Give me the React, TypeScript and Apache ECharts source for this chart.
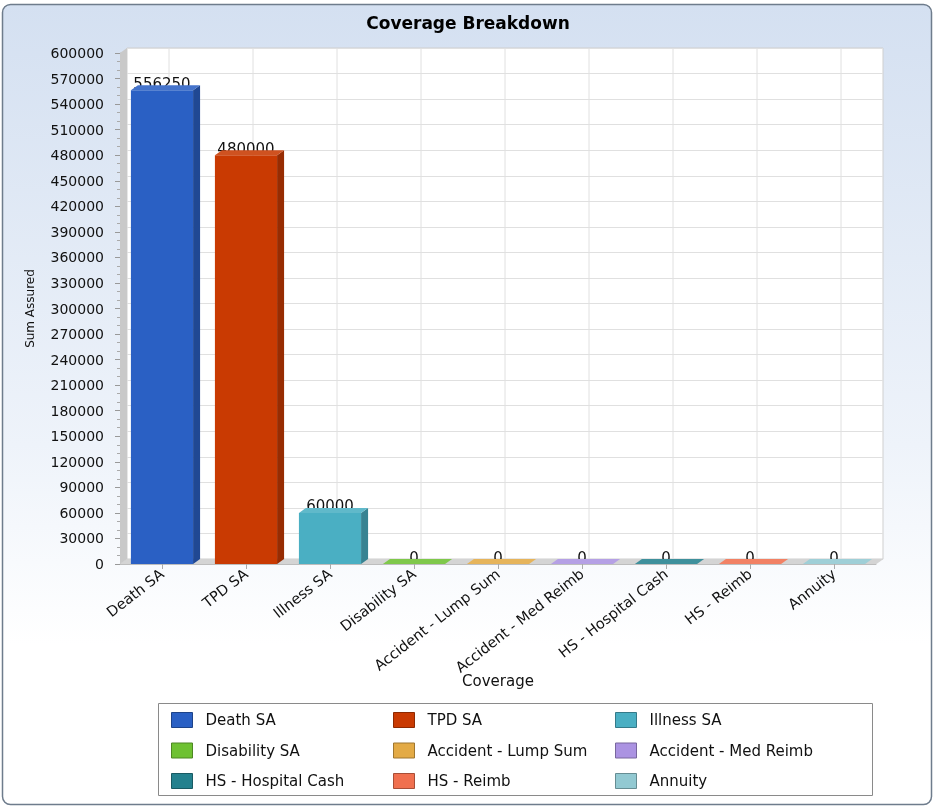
import React, { useEffect, useRef } from "react";
import * as echarts from "echarts";

const categories = [
  "Death SA",
  "TPD SA",
  "Illness SA",
  "Disability SA",
  "Accident - Lump Sum",
  "Accident - Med Reimb",
  "HS - Hospital Cash",
  "HS - Reimb",
  "Annuity",
];
const sumAssured = [556250, 480000, 60000, 0, 0, 0, 0, 0, 0];
const colors = [
  "#2A60C4",
  "#C93A02",
  "#4AAFC3",
  "#6EC132",
  "#E3AA45",
  "#AB93E2",
  "#24818E",
  "#F0704F",
  "#92C9D2",
];
const yMin = 0;
const yMax = 600000;
const yInterval = 30000;

const FONT = "'DejaVu Sans', 'Liberation Sans', sans-serif";
const DX = 7;
const DY = 5;

function shade(hex: string, f: number): string {
  const n = parseInt(hex.slice(1), 16);
  let r = (n >> 16) & 255;
  let g = (n >> 8) & 255;
  let b = n & 255;
  if (f < 0) {
    r = r * (1 + f);
    g = g * (1 + f);
    b = b * (1 + f);
  } else {
    r = r + (255 - r) * f;
    g = g + (255 - g) * f;
    b = b + (255 - b) * f;
  }
  return `rgb(${Math.round(r)},${Math.round(g)},${Math.round(b)})`;
}

export default function App() {
  const ref = useRef<HTMLDivElement>(null);

  useEffect(() => {
    if (!ref.current) return;
    const chart = echarts.init(ref.current, null, { renderer: "svg" });

    const wallSeries: any = {
      type: "custom",
      name: "__wall",
      silent: true,
      z: 1,
      xAxisIndex: 0,
      yAxisIndex: 0,
      data: categories.map((_, i) => [i, yMax]),
      renderItem: (params: any, api: any) => {
        const ci = api.value(0);
        const top = api.coord([ci, yMax]);
        const base = api.coord([ci, 0]);
        const w = api.size([1, 0])[0];
        const bl = top[0] - w / 2;
        const br = top[0] + w / 2;
        const children: any[] = [
          {
            type: "line",
            shape: { x1: top[0] + DX, y1: top[1] - DY, x2: base[0] + DX, y2: base[1] - DY },
            style: { stroke: "#e0e0e0", lineWidth: 1 },
          },
          {
            type: "polygon",
            shape: {
              points: [
                [bl - 0.5, base[1]],
                [bl + DX - 0.5, base[1] - DY],
                [br + DX + 0.5, base[1] - DY],
                [br + 0.5, base[1]],
              ],
            },
            style: { fill: "#d4d4d4" },
          },
        ];
        if (params.dataIndex === 0) {
          children.push({
            type: "polygon",
            shape: {
              points: [
                [bl, top[1]],
                [bl + DX, top[1] - DY],
                [bl + DX, base[1] - DY],
                [bl, base[1]],
              ],
            },
            style: { fill: "#c9c9c9" },
          });
        }
        return { type: "group", children };
      },
    };

    const barSeries: any[] = categories.map((name, i) => ({
      type: "custom",
      name,
      z: 3,
      xAxisIndex: 0,
      yAxisIndex: 0,
      itemStyle: { color: colors[i] },
      data: [[i, sumAssured[i]]],
      renderItem: (params: any, api: any) => {
        const ci = api.value(0);
        const v = api.value(1);
        const top = api.coord([ci, v]);
        const base = api.coord([ci, 0]);
        const bw = api.size([1, 0])[0] * 0.74;
        const l = top[0] - bw / 2;
        const r = top[0] + bw / 2;
        const t = top[1];
        const b = base[1];
        const c = colors[i];
        return {
          type: "group",
          children: [
            {
              type: "text",
              style: {
                text: String(v),
                x: top[0],
                y: t + 1,
                align: "center",
                verticalAlign: "bottom",
                textAlign: "center",
                textVerticalAlign: "bottom",
                fill: "#111",
                font: `15px ${FONT}`,
              },
            },
            {
              type: "rect",
              shape: { x: l, y: t, width: bw, height: b - t },
              style: { fill: c },
            },
            {
              type: "polygon",
              shape: { points: [[r, t], [r + DX, t - DY], [r + DX, b - DY], [r, b]] },
              style: { fill: shade(c, -0.25) },
            },
            {
              type: "polygon",
              shape: { points: [[l, t], [l + DX, t - DY], [r + DX, t - DY], [r, t]] },
              style: { fill: shade(c, 0.12) },
            },
          ],
        };
      },
    }));

    const legends = [0, 1, 2].map((col) => ({
      orient: "vertical",
      left: 171 + col * 222,
      top: 712,
      padding: 0,
      itemGap: 14.5,
      itemWidth: 21,
      itemHeight: 15,
      icon: "rect",
      selectedMode: false,
      data: categories
        .map((name, i) => ({ name, i }))
        .filter((d) => d.i % 3 === col)
        .map((d) => ({
          name: d.name,
          itemStyle: { color: colors[d.i], borderColor: shade(colors[d.i], -0.3), borderWidth: 1 },
        })),
      textStyle: {
        fontFamily: FONT,
        fontSize: 15,
        color: "#111",
        lineHeight: 15,
        padding: [0, 0, 0, 8],
      },
    }));

    chart.setOption({
      animation: false,
      title: {
        text: "Coverage Breakdown",
        left: "center",
        top: 9,
        textStyle: { fontFamily: FONT, fontWeight: "bold", fontSize: 17, color: "#000" },
      },
      graphic: [
        {
          type: "rect",
          z: -10,
          shape: { x: 2.5, y: 4.5, width: 929, height: 800, r: 8 },
          style: {
            fill: new echarts.graphic.LinearGradient(0, 0, 0, 1, [
              { offset: 0, color: "#D4E0F1" },
              { offset: 0.55, color: "#EEF3FA" },
              { offset: 0.8, color: "#FFFFFF" },
              { offset: 1, color: "#FFFFFF" },
            ]),
            stroke: "#6E7C8C",
            lineWidth: 1.5,
          },
        },
        {
          type: "rect",
          z: -5,
          shape: { x: 158.5, y: 703.5, width: 714, height: 92 },
          style: { fill: "#FFFFFF", stroke: "#8A8A8A", lineWidth: 1 },
        },
      ],
      legend: legends,
      grid: [
        { left: 120, right: 60, top: 53, bottom: 245, containLabel: false },
        {
          left: 127,
          right: 53,
          top: 48,
          bottom: 250,
          show: true,
          backgroundColor: "#FFFFFF",
          borderColor: "#cfcfcf",
          borderWidth: 1,
          z: -1,
        },
      ],
      xAxis: [
        {
          type: "category",
          gridIndex: 0,
          data: categories,
          name: "Coverage",
          nameLocation: "middle",
          nameGap: 109,
          nameMoveOverlap: false,
          nameTextStyle: { fontFamily: FONT, fontSize: 15, color: "#111" },
          axisLine: { show: true, lineStyle: { color: "#bdbdbd" } },
          axisTick: { show: true, alignWithLabel: true, length: 5, lineStyle: { color: "#aaa" } },
          axisLabel: {
            rotate: 38,
            interval: 0,
            margin: 8,
            fontFamily: FONT,
            fontSize: 14.5,
            color: "#111",
          },
          splitLine: { show: false },
        },
        {
          type: "category",
          gridIndex: 1,
          data: categories,
          show: false,
        },
      ],
      yAxis: [
        {
          type: "value",
          gridIndex: 0,
          min: yMin,
          max: yMax,
          interval: yInterval,
          name: "Sum Assured",
          nameLocation: "middle",
          nameGap: 84,
          nameTextStyle: { fontFamily: FONT, fontSize: 12, color: "#111" },
          axisLine: { show: true, lineStyle: { color: "#bdbdbd" } },
          axisTick: { show: true, length: 5, lineStyle: { color: "#999" } },
          minorTick: { show: true, splitNumber: 3, length: 3, lineStyle: { color: "#aaa" } },
          axisLabel: {
            margin: 16,
            fontFamily: FONT,
            fontSize: 14,
            color: "#111",
            formatter: (v: number) => String(v),
          },
          splitLine: { show: false },
        },
        {
          type: "value",
          gridIndex: 1,
          min: yMin,
          max: yMax,
          interval: yInterval,
          axisLine: { show: false },
          axisTick: { show: false },
          axisLabel: { show: false },
          splitLine: { show: true, lineStyle: { color: "#e0e0e0", width: 1 } },
        },
      ],
      series: [wallSeries, ...barSeries],
    });

    return () => chart.dispose();
  }, []);

  return (
    <div
      ref={ref}
      style={{ position: "fixed", left: 0, top: 0, width: 936, height: 809 }}
    />
  );
}
